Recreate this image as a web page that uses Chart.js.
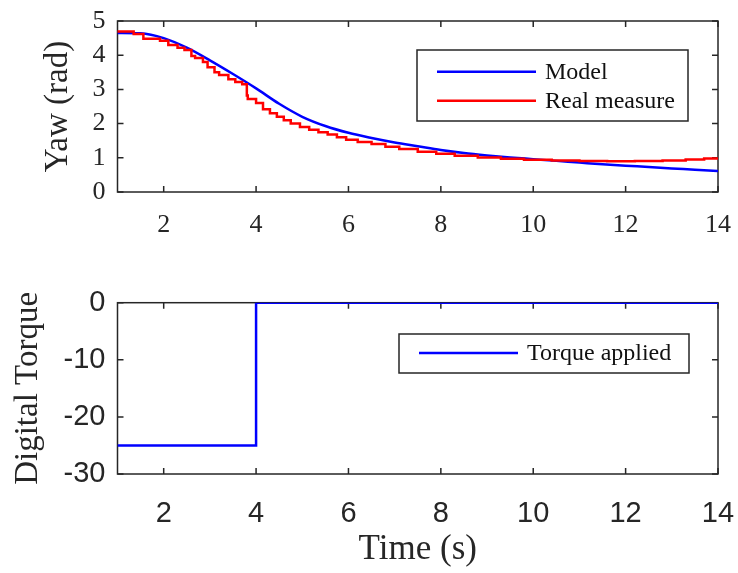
<!DOCTYPE html>
<html>
<head>
<meta charset="utf-8">
<script src="https://cdn.jsdelivr.net/npm/chart.js@4"></script>
<style>
  body { margin: 0; background: #fff; }
  #wrap { position: relative; width: 738px; height: 573px; }
  canvas { position: absolute; left: 0; }
  #yaw { top: 0; }
  #torque { top: 250px; }
</style>
</head>
<body>
<div id="wrap">
  <canvas id="yaw" width="738" height="250"></canvas>
  <canvas id="torque" width="738" height="323"></canvas>
</div>
<script>
// data
const xTicks = [2, 4, 6, 8, 10, 12, 14];
const yawTicks = [0, 1, 2, 3, 4, 5];
const torqueTicks = [-30, -20, -10, 0];

const modelX = [1, 1.5, 2, 2.5, 3, 3.5, 4, 4.5, 5, 5.5, 6, 6.5, 7, 7.5, 8, 8.5, 9, 9.5, 10, 10.5, 11, 11.5, 12, 12.5, 13, 13.5, 14];
const modelY = [4.65, 4.64, 4.50, 4.22, 3.85, 3.45, 3.03, 2.58, 2.20, 1.93, 1.73, 1.58, 1.45, 1.34, 1.23, 1.14, 1.07, 1.01, 0.96, 0.91, 0.86, 0.81, 0.77, 0.73, 0.69, 0.65, 0.61];

// real measure is a staircase: each point starts a plateau
const measX = [1.0, 1.35, 1.56, 1.92, 2.1, 2.3, 2.45, 2.6, 2.68, 2.85, 2.95, 3.1, 3.2, 3.4, 3.55, 3.7, 3.8, 3.82, 4.0, 4.15, 4.3, 4.45, 4.6, 4.75, 4.95, 5.15, 5.35, 5.55, 5.75, 5.95, 6.2, 6.5, 6.8, 7.1, 7.5, 7.9, 8.3, 8.8, 9.3, 9.8, 10.4, 11, 11.6, 12.2, 12.8, 13.3, 13.7, 14];
const measY = [4.66, 4.69, 4.62, 4.48, 4.42, 4.30, 4.22, 4.15, 3.98, 3.92, 3.80, 3.65, 3.50, 3.42, 3.30, 3.22, 3.15, 2.82, 2.72, 2.60, 2.42, 2.30, 2.20, 2.10, 2.00, 1.90, 1.82, 1.75, 1.68, 1.60, 1.53, 1.46, 1.40, 1.32, 1.26, 1.18, 1.12, 1.06, 1.01, 0.97, 0.94, 0.92, 0.91, 0.90, 0.91, 0.92, 0.95, 0.98];

const torqueX = [1, 4, 4, 14];
const torqueY = [-25, -25, 0, 0];

const serif = "'Liberation Serif', 'Times New Roman', serif";
const sans = "'Liberation Sans', Arial, sans-serif";
const ink = '#262626';

function pts(xs, ys) {
  return xs.map((x, i) => ({ x: x, y: ys[i] }));
}

// axes box with inward tick marks (under the lines) and a boxed legend on top
const matlabAxes = {
  id: 'matlabAxes',
  beforeDatasetsDraw(chart) {
    const ctx = chart.ctx;
    const a = chart.chartArea;
    const xs = chart.scales.x, ys = chart.scales.y;
    const tl = 6;
    ctx.save();
    ctx.strokeStyle = ink;
    ctx.lineWidth = 1.5;
    ctx.beginPath();
    xs.ticks.forEach(t => {
      const px = xs.getPixelForValue(t.value);
      ctx.moveTo(px, a.bottom); ctx.lineTo(px, a.bottom - tl);
      ctx.moveTo(px, a.top); ctx.lineTo(px, a.top + tl);
    });
    ys.ticks.forEach(t => {
      const py = ys.getPixelForValue(t.value);
      ctx.moveTo(a.left, py); ctx.lineTo(a.left + tl, py);
      ctx.moveTo(a.right, py); ctx.lineTo(a.right - tl, py);
    });
    ctx.stroke();
    ctx.strokeRect(a.left, a.top, a.right - a.left, a.bottom - a.top);
    ctx.restore();
  },
  afterDraw(chart, args, opts) {
    const ctx = chart.ctx;
    const a = chart.chartArea;
    const bx = a.left + opts.dx, by = a.top + opts.dy;
    ctx.save();
    ctx.strokeStyle = ink;
    ctx.lineWidth = 1.5;
    ctx.fillStyle = '#fff';
    ctx.fillRect(bx, by, opts.w, opts.h);
    ctx.strokeRect(bx, by, opts.w, opts.h);
    ctx.font = '24px ' + serif;
    ctx.textBaseline = 'middle';
    ctx.textAlign = 'left';
    chart.data.datasets.forEach((ds, i) => {
      const cy = by + opts.row0 + i * opts.rowStep;
      ctx.strokeStyle = ds.borderColor;
      ctx.lineWidth = 2.5;
      ctx.beginPath();
      ctx.moveTo(bx + 20, cy); ctx.lineTo(bx + 119, cy);
      ctx.stroke();
      ctx.fillStyle = '#111';
      ctx.fillText(ds.label, bx + 128, cy + 1);
    });
    ctx.restore();
  }
};

function xAxis(font, pad, height, title) {
  return {
    type: 'linear', min: 1, max: 14,
    grid: { display: false, drawTicks: false },
    border: { display: false },
    ticks: { font: font, color: ink, padding: pad, maxRotation: 0, autoSkip: false },
    afterBuildTicks: s => { s.ticks = xTicks.map(v => ({ value: v })); },
    afterFit: s => { s.height = height; s.paddingLeft = 0; s.paddingRight = 0; },
    title: title
  };
}

function yAxis(min, max, ticks, font, title) {
  return {
    min: min, max: max,
    grid: { display: false, drawTicks: false },
    border: { display: false },
    ticks: { font: font, color: ink, padding: 12, autoSkip: false },
    afterBuildTicks: s => { s.ticks = ticks.map(v => ({ value: v })); },
    afterFit: s => { s.width = 117.5; s.paddingTop = 0; s.paddingBottom = 0; },
    title: title
  };
}

const yawChart = new Chart(document.getElementById('yaw'), {
  type: 'line',
  data: {
    datasets: [{
      label: 'Model',
      data: pts(modelX, modelY),
      borderColor: '#0000ff',
      borderWidth: 2.5,
      pointRadius: 0,
      order: 1,
      cubicInterpolationMode: 'monotone'
    }, {
      label: 'Real measure',
      data: pts(measX, measY),
      borderColor: '#ff0000',
      borderWidth: 2.5,
      pointRadius: 0,
      order: 0,
      stepped: 'after'
    }]
  },
  options: {
    responsive: false,
    animation: false,
    layout: { padding: { top: 21, right: 20, left: 0, bottom: 0 } },
    plugins: {
      legend: { display: false },
      tooltip: { enabled: false },
      matlabAxes: { dx: 299.5, dy: 29, w: 271, h: 71, row0: 21.7, rowStep: 29 }
    },
    scales: {
      x: xAxis({ family: serif, size: 26 }, 18, 58, { display: false }),
      y: yAxis(0, 5, yawTicks, { family: serif, size: 26 },
        { display: true, text: 'Yaw (rad)', color: ink, font: { family: serif, size: 33 }, padding: { top: 39, bottom: 0 } })
    }
  },
  plugins: [matlabAxes]
});

const torqueChart = new Chart(document.getElementById('torque'), {
  type: 'line',
  data: {
    datasets: [{
      label: 'Torque applied',
      data: pts(torqueX, torqueY),
      borderColor: '#0000ff',
      borderWidth: 2.5,
      pointRadius: 0
    }]
  },
  options: {
    responsive: false,
    animation: false,
    layout: { padding: { top: 52.7, right: 20, left: 0, bottom: 0 } },
    plugins: {
      legend: { display: false },
      tooltip: { enabled: false },
      matlabAxes: { dx: 281.5, dy: 31.3, w: 290, h: 39, row0: 19, rowStep: 0 }
    },
    scales: {
      x: xAxis({ family: sans, size: 29 }, 23, 99,
        { display: true, text: 'Time (s)', color: ink, font: { family: serif, size: 35 }, padding: { top: 0, bottom: 2 } }),
      y: yAxis(-30, 0, torqueTicks, { family: sans, size: 29 },
        { display: true, text: 'Digital Torque', color: ink, font: { family: serif, size: 33 }, padding: { top: 9, bottom: 0 } })
    }
  },
  plugins: [matlabAxes]
});
</script>
</body>
</html>
